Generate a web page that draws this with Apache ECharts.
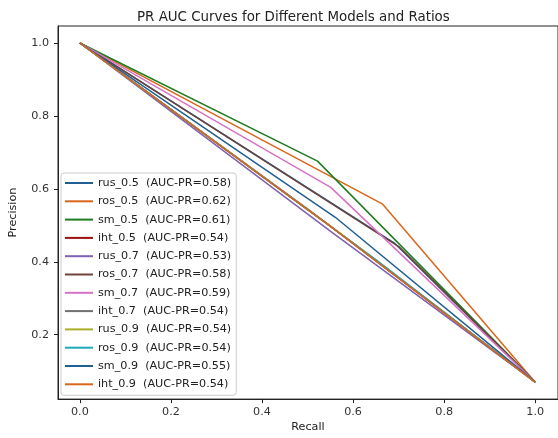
<!DOCTYPE html>
<html>
<head>
<meta charset="utf-8">
<script src="https://cdn.jsdelivr.net/npm/echarts@6/dist/echarts.min.js"></script>
<style>
  html, body { margin: 0; padding: 0; background: #fff; }
  #chart { width: 558px; height: 438px; }
</style>
</head>
<body>
<div id="chart"></div>
<script>
var modelNames = ['rus_0.5', 'ros_0.5', 'sm_0.5', 'iht_0.5', 'rus_0.7', 'ros_0.7',
                  'sm_0.7', 'iht_0.7', 'rus_0.9', 'ros_0.9', 'sm_0.9', 'iht_0.9'];
var aucValues = [0.58, 0.62, 0.61, 0.54, 0.53, 0.58, 0.59, 0.54, 0.54, 0.54, 0.55, 0.54];
// middle point of each curve (the start is (0,1), the end (1, endPrecision))
var kinkRecall    = [0.69, 0.665, 0.522, 0.55, 0.55, 0.702, 0.551, 0.50, 0.60, 0.65, 0.561, 0.55];
var kinkPrecision = [0.452, 0.558, 0.676, 0.498, 0.484, 0.44, 0.604, 0.545, 0.452, 0.406, 0.522, 0.498];
var startPoint = [0, 1];
var endPrecision = 0.07;
var tickValues = [0, 0.2, 0.4, 0.6, 0.8, 1.0];
var yTickValues = [0.2, 0.4, 0.6, 0.8, 1.0];
var lineColors = ['#1f5f92', '#d9661a', '#1e7d1e', '#9e1010', '#8060b0', '#6e4238',
                  '#d672c4', '#707070', '#aeae2a', '#1aaabb', '#1f5f92', '#d9661a'];

var chart = echarts.init(document.getElementById('chart'));

var series = [];
for (var i = 0; i < modelNames.length; i++) {
    series.push({
        name: modelNames[i] + '  (AUC-PR=' + aucValues[i].toFixed(2) + ')',
        type: 'line',
        showSymbol: false,
        symbol: 'none',
        lineStyle: { width: 1.5, color: lineColors[i] },
        itemStyle: { color: lineColors[i] },
        data: [startPoint, [kinkRecall[i], kinkPrecision[i]], [1, endPrecision]]
    });
}

var font = 'DejaVu Sans';

var option = {
    animation: false,
    backgroundColor: '#fff',
    title: {
        text: 'PR AUC Curves for Different Models and Ratios',
        left: 132,
        top: 6,
        textStyle: { fontFamily: font, fontSize: 13.4, fontWeight: 'normal', color: '#222' }
    },
    grid: {
        left: 55,
        top: 26,
        width: 514,
        height: 375,
        show: true,
        borderColor: '#222',
        borderWidth: 1
    },
    legend: {
        orient: 'vertical',
        left: 61,
        top: 173,
        padding: [4, 5, 5, 4],
        itemWidth: 28,
        itemHeight: 2,
        itemGap: 6.3,
        icon: 'rect',
        backgroundColor: 'rgba(255,255,255,0.85)',
        borderColor: '#ccc',
        borderWidth: 1,
        borderRadius: 3,
        textStyle: { fontFamily: font, fontSize: 11.2, lineHeight: 12, color: '#222' }
    },
    xAxis: {
        type: 'value',
        min: -0.048,
        max: 1.05,
        name: 'Recall',
        nameLocation: 'middle',
        nameGap: 22,
        nameTextStyle: { fontFamily: font, fontSize: 11.2, color: '#222' },
        axisLine: { show: true, onZero: false, lineStyle: { color: '#222', width: 1 } },
        axisTick: { show: true, length: 4, customValues: tickValues, lineStyle: { color: '#222' } },
        axisLabel: {
            customValues: tickValues,
            margin: 7,
            fontFamily: font, fontSize: 11.2, color: '#333',
            formatter: function (v) { return v.toFixed(1); }
        },
        splitLine: { show: false }
    },
    yAxis: {
        type: 'value',
        min: 0.0235,
        max: 1.0465,
        name: 'Precision',
        nameLocation: 'middle',
        nameGap: 39,
        nameTextStyle: { fontFamily: font, fontSize: 11.2, color: '#222' },
        axisLine: { show: true, onZero: false, lineStyle: { color: '#222', width: 1 } },
        axisTick: { show: true, length: 4, customValues: yTickValues, lineStyle: { color: '#222' } },
        axisLabel: {
            customValues: yTickValues,
            margin: 9,
            fontFamily: font, fontSize: 11.2, color: '#333',
            formatter: function (v) { return v.toFixed(1); }
        },
        splitLine: { show: false }
    },
    series: series
};

chart.setOption(option);
</script>
</body>
</html>
